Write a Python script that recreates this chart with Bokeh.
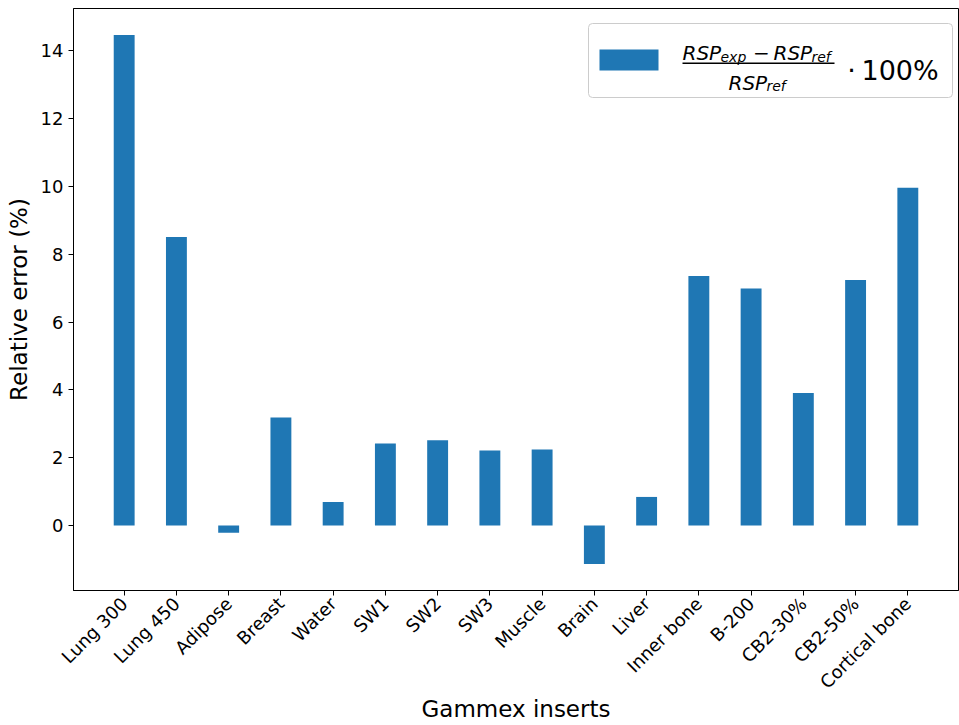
import math
from bokeh.plotting import figure
from bokeh.models import Range1d, FixedTicker, BoxAnnotation, Label
from bokeh.embed import file_html
from bokeh.resources import INLINE

# Gammex phantom inserts and relative RSP error (%)
inserts = ["Lung 300", "Lung 450", "Adipose", "Breast", "Water", "SW1", "SW2", "SW3",
           "Muscle", "Brain", "Liver", "Inner bone", "B-200", "CB2-30%", "CB2-50%",
           "Cortical bone"]
rel_error = [14.47, 8.51, -0.22, 3.18, 0.69, 2.42, 2.51, 2.21,
             2.24, -1.14, 0.84, 7.36, 6.99, 3.91, 7.24, 9.96]
y_ticks = [0, 2, 4, 6, 8, 10, 12, 14]

BAR_COLOR = "#1f77b4"
FONT = "DejaVu Sans"

W, H = 959, 725
FL, FR, FT, FB = 73, 958, 8, 590  # frame edges in canvas pixels

xpos = list(range(len(inserts)))

# axis ranges with 5% margins around the bar extents
bw = 0.4
xmin, xmax = xpos[0] - bw / 2, xpos[-1] + bw / 2
ymin, ymax = min(0, min(rel_error)), max(rel_error)
xm, ym = 0.05 * (xmax - xmin), 0.05 * (ymax - ymin)

p = figure(width=W, height=H, output_backend="svg", toolbar_location=None,
           x_range=Range1d(xmin - xm, xmax + xm), y_range=Range1d(ymin - ym, ymax + ym),
           min_border_left=FL, min_border_right=W - FR, min_border_top=FT,
           min_border_bottom=H - FB)
p.background_fill_color = "white"
p.border_fill_color = "white"
p.outline_line_color = "black"
p.outline_line_width = 1
p.xgrid.visible = False
p.ygrid.visible = False

p.vbar(x=xpos, top=rel_error, bottom=0, width=bw, color=BAR_COLOR, line_color=None)

for ax in (p.xaxis[0], p.yaxis[0]):
    ax.axis_line_color = "black"
    ax.major_tick_line_color = "black"
    ax.major_tick_out = 5
    ax.major_tick_in = 0
    ax.minor_tick_out = 0
    ax.minor_tick_in = 0
    ax.major_label_text_font = FONT
    ax.major_label_text_font_size = "18px"
    ax.major_label_text_color = "black"
    ax.axis_label_text_font = FONT
    ax.axis_label_text_font_size = "23px"
    ax.axis_label_text_font_style = "normal"
    ax.axis_label_text_color = "black"
    ax.major_label_standoff = 5

p.xaxis.ticker = FixedTicker(ticks=xpos)
p.xaxis.major_label_overrides = {i: name for i, name in zip(xpos, inserts)}
p.xaxis.major_label_orientation = math.pi / 4
p.xaxis.axis_label = "Gammex inserts"
p.xaxis.axis_label_standoff = -7

p.yaxis.ticker = FixedTicker(ticks=y_ticks)
p.yaxis.axis_label = "Relative error (%)"
p.yaxis.axis_label_standoff = 6


# --- canvas pixel helpers for annotations placed relative to the frame ---
def sx(x):
    return x - FL


def sy(y):
    return FB - y


def box(l, r, t, b, **kw):
    p.add_layout(BoxAnnotation(left=sx(l), right=sx(r), top=sy(t), bottom=sy(b),
                               left_units="screen", right_units="screen",
                               top_units="screen", bottom_units="screen", **kw))


def txt(x, y, s, size, style="italic", align="left"):
    p.add_layout(Label(x=sx(x), y=sy(y), x_units="screen", y_units="screen", text=s,
                       text_font=FONT, text_font_size=size, text_font_style=style,
                       text_color="black", text_align=align, text_baseline="alphabetic"))


# legend with the fraction formula
box(588, 952, 23, 97, fill_color="white", fill_alpha=0.8, line_color="#cccccc",
    line_alpha=1, line_width=1, border_radius=4)
box(599, 658, 49, 70, fill_color=BAR_COLOR, fill_alpha=1, line_color=None)

# numerator
txt(682, 52.5, "RSP", "20px")
txt(720, 56, "exp", "14px")
txt(761, 52.5, "\u2212", "20px", style="normal", align="center")
txt(773, 52.5, "RSP", "20px")
txt(811, 56, "ref", "14px")
# fraction bar
box(682, 834, 62, 63.4, fill_color="black", fill_alpha=1, line_color=None)
# denominator
txt(728, 82, "RSP", "20px")
txt(766, 85.5, "ref", "14px")
# multiplier
txt(851, 70, "\u00b7", "27px", style="normal", align="center")
txt(861, 70, "100%", "27px", style="normal")

open("out.html", "w").write(file_html(p, INLINE))
